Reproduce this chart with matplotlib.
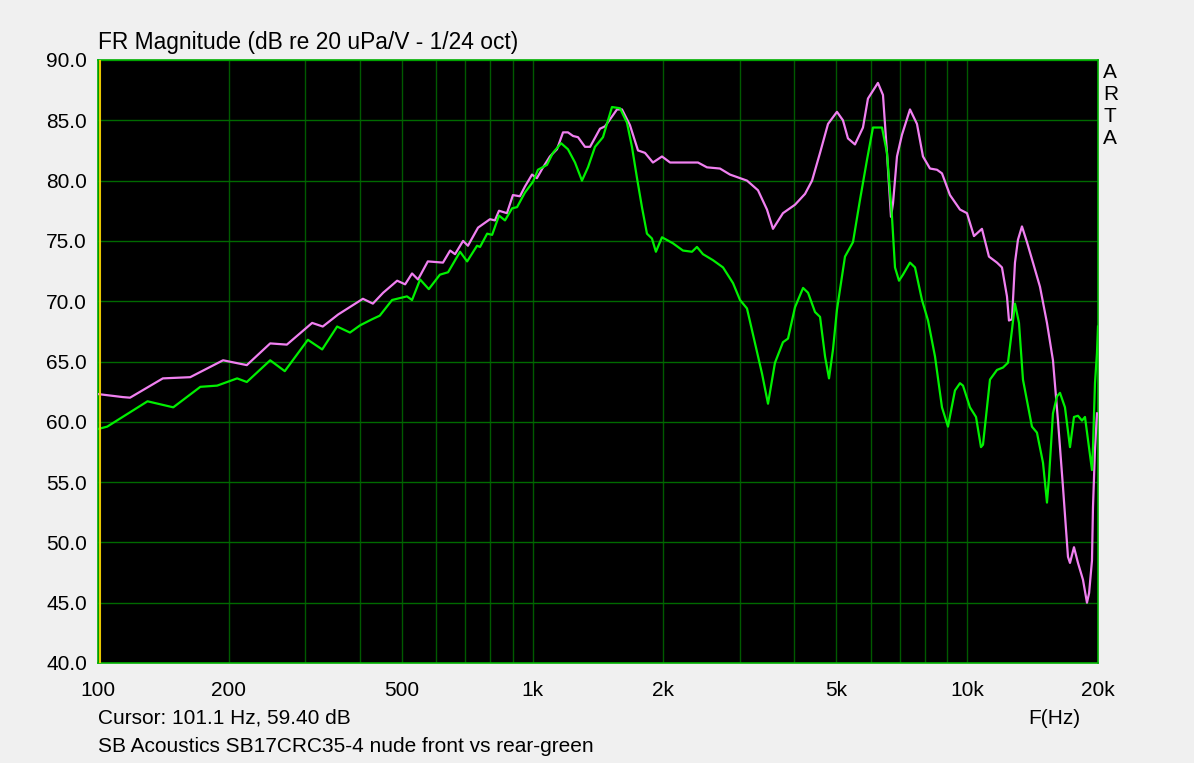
import matplotlib
matplotlib.use("Agg")
import matplotlib.pyplot as plt
from matplotlib.ticker import FixedLocator, NullLocator, FixedFormatter

plt.rcParams['font.family'] = ['Liberation Sans', 'DejaVu Sans']

# Front (pink) response: frequency (Hz), level (dB)
front_f = [100, 114, 118.5, 141, 163, 194, 220, 249, 272, 311, 329, 357, 407, 429, 453, 488, 509,
           528, 545, 574, 622, 646, 663, 692, 710, 749, 798, 819, 837, 873, 901, 935, 960, 997,
           1023, 1057, 1096, 1138, 1175, 1206, 1239, 1272, 1320, 1356, 1429, 1468, 1564, 1606,
           1675, 1748, 1814, 1892, 1985, 2072, 2266, 2402, 2519, 2699, 2846, 3114, 3301, 3462,
           3574, 3768, 4016, 4236, 4396, 4586, 4784, 5016, 5178, 5317, 5518, 5757, 5911, 6232,
           6401, 6538, 6678, 6750, 6894, 7079, 7386, 7664, 7912, 8212, 8522, 8750, 9129, 9626,
           9989, 10366, 10814, 11223, 11710, 12024, 12347, 12478, 12678, 12882, 13088, 13368,
           13727, 14171, 14706, 15262, 15754, 16178, 16612, 17059, 17241, 17610, 17987, 18470,
           18865, 19078, 19372, 19475, 19682, 19891]
front_db = [62.3, 62.05, 62.0, 63.6, 63.7, 65.1, 64.7, 66.5, 66.4, 68.2, 67.9, 68.9, 70.2, 69.8,
            70.7, 71.7, 71.4, 72.3, 71.8, 73.3, 73.2, 74.2, 73.9, 75.0, 74.6, 76.1, 76.8, 76.7,
            77.5, 77.3, 78.8, 78.7, 79.5, 80.5, 80.2, 81.1, 82.0, 82.6, 84.0, 84.0, 83.7, 83.6,
            82.8, 82.8, 84.3, 84.5, 85.9, 85.9, 84.6, 82.5, 82.3, 81.5, 82.0, 81.5, 81.5, 81.5,
            81.1, 81.0, 80.5, 80.0, 79.2, 77.6, 76.0, 77.3, 78.0, 78.9, 80.0, 82.3, 84.7, 85.7,
            85.0, 83.5, 83.0, 84.4, 86.8, 88.1, 87.1, 82.3, 77.0, 78.1, 82.0, 83.8, 85.9, 84.7,
            82.0, 81.0, 80.9, 80.6, 78.8, 77.6, 77.3, 75.4, 76.0, 73.7, 73.2, 72.8, 70.4, 68.4,
            68.5, 73.2, 75.1, 76.2, 74.9, 73.2, 71.2, 68.2, 65.1, 60.1, 54.6, 48.8, 48.3, 49.6,
            48.3, 46.9, 45.0, 45.8, 48.5, 52.9, 57.7, 60.7]

# Rear (green) response: frequency (Hz), level (dB)
rear_f = [100, 105, 130, 149, 172, 188, 209, 220, 249, 269, 304, 328, 355, 380, 401, 427, 445,
          475, 514, 528, 551, 577, 612, 639, 681, 707, 745, 757, 786, 807, 837, 864, 897, 921,
          960, 1002, 1029, 1079, 1114, 1163, 1206, 1252, 1299, 1341, 1392, 1452, 1523, 1589,
          1649, 1693, 1739, 1785, 1833, 1882, 1922, 1985, 2104, 2218, 2327, 2389, 2466, 2601,
          2743, 2892, 3001, 3114, 3249, 3372, 3481, 3612, 3768, 3870, 4016, 4192, 4304, 4466,
          4586, 4710, 4809, 4912, 5016, 5234, 5461, 5667, 5880, 6070, 6368, 6538, 6714, 6822,
          6968, 7117, 7386, 7585, 7870, 8127, 8434, 8750, 9033, 9374, 9626, 9781, 10148, 10479,
          10759, 10874, 11284, 11710, 12089, 12413, 12678, 12882, 13159, 13439, 14094, 14473,
          14945, 15262, 15428, 15754, 16092, 16350, 16788, 17241, 17610, 17987, 18372, 18667,
          18967, 19372, 19475, 19682, 19891, 20000]
rear_db = [59.4, 59.6, 61.7, 61.2, 62.9, 63.0, 63.6, 63.3, 65.1, 64.2, 66.8, 66.0, 67.9, 67.4,
           68.0, 68.5, 68.8, 70.1, 70.4, 70.1, 71.8, 71.0, 72.2, 72.4, 74.1, 73.3, 74.6, 74.5,
           75.6, 75.5, 77.1, 76.7, 77.7, 77.8, 79.0, 79.9, 80.9, 81.3, 82.3, 83.1, 82.6, 81.5,
           80.0, 81.1, 82.8, 83.6, 86.1, 86.0, 84.8, 82.8, 80.2, 77.8, 75.6, 75.2, 74.1, 75.3,
           74.8, 74.2, 74.1, 74.5, 73.9, 73.4, 72.8, 71.5, 70.1, 69.4, 66.5, 64.0, 61.5, 64.9,
           66.6, 66.9, 69.5, 71.1, 70.7, 69.1, 68.7, 65.4, 63.6, 66.0, 69.3, 73.7, 74.9, 78.4,
           81.7, 84.4, 84.4, 82.3, 77.0, 72.8, 71.7, 72.2, 73.2, 72.8, 70.1, 68.4, 65.4, 61.2,
           59.6, 62.6, 63.2, 63.0, 61.2, 60.4, 57.9, 58.1, 63.5, 64.3, 64.5, 64.9, 67.6, 69.8,
           68.2, 63.5, 59.6, 59.1, 56.6, 53.3, 55.4, 60.7, 62.1, 62.4, 61.2, 57.9, 60.4, 60.5,
           60.1, 60.4, 58.5, 56.0, 57.9, 63.2, 65.7, 67.9]

cursor_hz = 101.1
y_ticks = [40, 45, 50, 55, 60, 65, 70, 75, 80, 85, 90]
x_ticks = [100, 200, 500, 1000, 2000, 5000, 10000, 20000]
x_tick_labels = ["100", "200", "500", "1k", "2k", "5k", "10k", "20k"]
x_grid = [200, 300, 400, 500, 600, 700, 800, 900, 1000, 2000, 3000, 4000, 5000, 6000,
          7000, 8000, 9000, 10000, 20000]

title = "FR Magnitude (dB re 20 uPa/V - 1/24 oct)"
cursor_text = "Cursor: 101.1 Hz, 59.40 dB"
footer = "SB Acoustics SB17CRC35-4 nude front vs rear-green"

W, H = 1194, 763
fig = plt.figure(figsize=(W / 100, H / 100), dpi=100, facecolor='#F0F0F0')
ax = fig.add_axes([98 / W, 1 - 663 / H, 1000 / W, 603 / H])
ax.set_facecolor('black')
ax.set_xscale('log')
ax.set_xlim(100, 20000)
ax.set_ylim(40, 90)

for g in x_grid:
    ax.axvline(g, color='#005A00', lw=1.0, zorder=1)
for yv in y_ticks:
    ax.axhline(yv, color='#006A00', lw=1.0, zorder=1)

ax.plot(front_f, front_db, color='#F080F0', lw=1.6, zorder=3)
ax.plot(rear_f, rear_db, color='#00F000', lw=1.6, zorder=4)
ax.axvline(cursor_hz, color='#E8C800', lw=1.5, zorder=5)

ax.xaxis.set_major_locator(FixedLocator(x_ticks))
ax.xaxis.set_major_formatter(FixedFormatter(x_tick_labels))
ax.xaxis.set_minor_locator(NullLocator())
ax.set_yticks(y_ticks)
ax.set_yticklabels([f"{v:.1f}" for v in y_ticks])
ax.tick_params(axis='both', length=0, labelsize=15, colors='black')
ax.tick_params(axis='x', pad=13)
ax.tick_params(axis='y', pad=8)
for s in ax.spines.values():
    s.set_color('#00B000')
    s.set_linewidth(1.2)

fig.text(98 / W, 1 - 43 / H, title, fontsize=16.4, ha='left', va='center')
fig.text(98 / W, 1 - 718 / H, cursor_text, fontsize=15, ha='left', va='center')
fig.text(1080 / W, 1 - 718 / H, "F(Hz)", fontsize=15, ha='right', va='center')
fig.text(98 / W, 1 - 747 / H, footer, fontsize=15, ha='left', va='center')
for i, ch in enumerate("ARTA"):
    fig.text(1103 / W, 1 - (73 + i * 22) / H, ch, fontsize=15, ha='left', va='center')

fig.savefig("out.png", dpi=100, facecolor=fig.get_facecolor())
